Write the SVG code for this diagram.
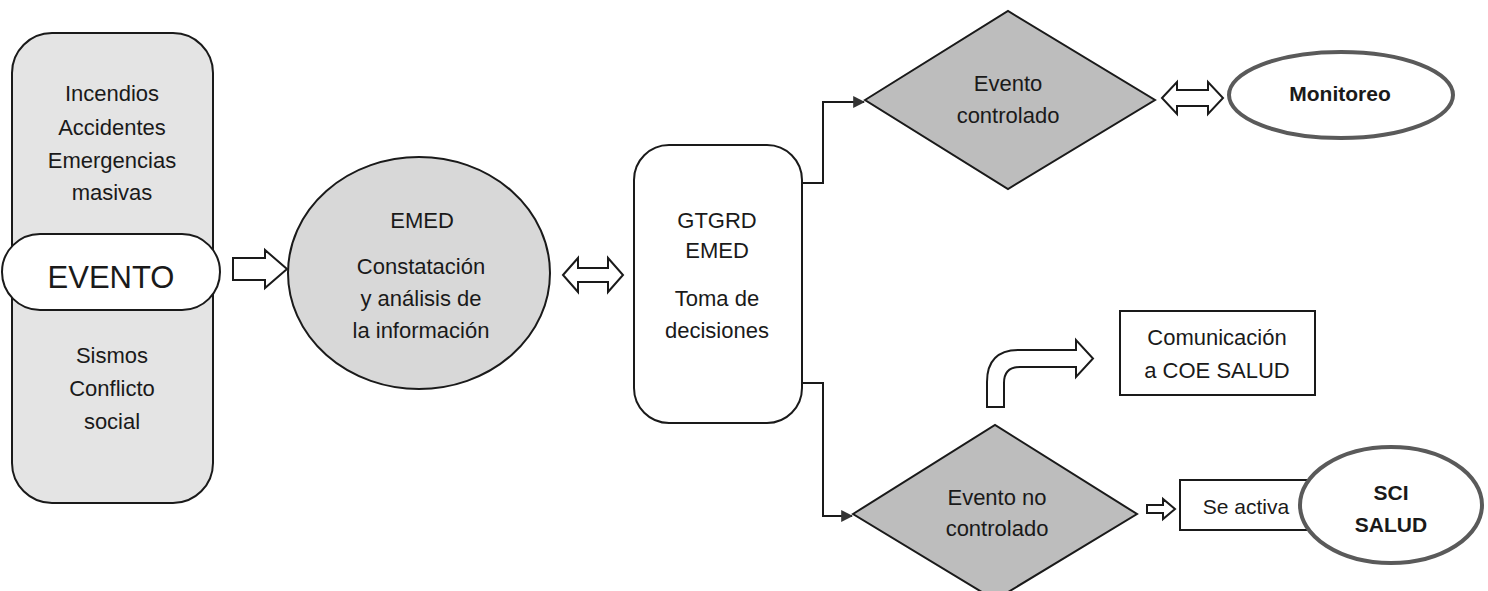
<svg xmlns="http://www.w3.org/2000/svg" width="1488" height="591" viewBox="0 0 1488 591">
<style>
.t{font-family:"Liberation Sans",Arial,sans-serif;font-size:22px;fill:#1a1a1a;text-anchor:middle}
.b{font-weight:bold;font-size:21px}
.ln{fill:none;stroke:#1a1a1a;stroke-width:2}
.hol{fill:#fff;stroke:#1a1a1a;stroke-width:2;stroke-linejoin:miter}
.dia{fill:#bdbdbd;stroke:#1a1a1a;stroke-width:2}
.ell{fill:#fff;stroke:#5a5a5a;stroke-width:4}
.box{fill:#fff;stroke:#1a1a1a;stroke-width:2}
</style>
<defs>
<marker id="ah" viewBox="0 0 10 10" refX="9" refY="5" markerWidth="6" markerHeight="6" orient="auto" markerUnits="strokeWidth">
<path d="M0,0 L10,5 L0,10 Z" fill="#333"/>
</marker>
</defs>
<rect width="1488" height="591" fill="#fff"/>

<g id="tipos">
<rect x="12" y="33" width="201" height="470" rx="40" fill="#e4e4e4" stroke="#1a1a1a" stroke-width="2"/>
<text class="t" x="112" y="101">Incendios</text>
<text class="t" x="112" y="135">Accidentes</text>
<text class="t" x="112" y="168">Emergencias</text>
<text class="t" x="112" y="200">masivas</text>
<text class="t" x="112" y="363">Sismos</text>
<text class="t" x="112" y="396">Conflicto</text>
<text class="t" x="112" y="429">social</text>
</g>

<g id="evento">
<rect x="2" y="234" width="218" height="76" rx="38" fill="#fff" stroke="#1a1a1a" stroke-width="2"/>
<text class="t" x="111" y="288" style="font-size:31px">EVENTO</text>
</g>

<g id="emed">
<ellipse cx="419" cy="273" rx="131" ry="116" fill="#d8d8d8" stroke="#1a1a1a" stroke-width="2"/>
<text class="t" x="422" y="228">EMED</text>
<text class="t" x="421" y="274">Constatación</text>
<text class="t" x="421" y="306">y análisis de</text>
<text class="t" x="421" y="338">la información</text>
</g>

<g id="gtgrd">
<rect x="634" y="145" width="168" height="278" rx="35" fill="#fff" stroke="#1a1a1a" stroke-width="2"/>
<text class="t" x="717" y="228">GTGRD</text>
<text class="t" x="717" y="258">EMED</text>
<text class="t" x="717" y="306">Toma de</text>
<text class="t" x="717" y="338">decisiones</text>
</g>

<g id="controlado">
<polygon class="dia" points="865,100 1008,11 1155,100 1008,189"/>
<text class="t" x="1008" y="91">Evento</text>
<text class="t" x="1008" y="123">controlado</text>
</g>

<g id="monitoreo">
<ellipse class="ell" cx="1341" cy="95" rx="112" ry="43"/>
<text class="t b" x="1340" y="101">Monitoreo</text>
</g>

<g id="comunicacion">
<rect class="box" x="1120" y="311" width="195" height="84"/>
<text class="t" x="1217" y="345">Comunicación</text>
<text class="t" x="1217" y="378">a COE SALUD</text>
</g>

<g id="nocontrolado">
<polygon class="dia" points="853,514 995,425 1137,514 995,600"/>
<text class="t" x="997" y="505">Evento no</text>
<text class="t" x="997" y="536">controlado</text>
</g>

<g id="seactiva">
<rect class="box" x="1180" y="480" width="140" height="50"/>
<text class="t" x="1246" y="514" style="font-size:21px">Se activa</text>
</g>

<g id="sci">
<ellipse class="ell" cx="1391" cy="505" rx="91" ry="58"/>
<text class="t b" x="1391" y="500">SCI</text>
<text class="t b" x="1391" y="532">SALUD</text>
</g>

<g id="connectors">
<path class="hol" d="M233,258 H265 V250 L287,269 L265,288 V280 H233 Z"/>
<path class="hol" d="M563,275 L578,258 V268 H608 V258 L623,275 L608,292 V282 H578 V292 Z"/>
<path class="ln" d="M802,183 H823 V102 H864" marker-end="url(#ah)"/>
<path class="ln" d="M802,383 H823 V516 H852" marker-end="url(#ah)"/>
<path class="hol" d="M1162,98 L1177,82 V90 H1208 V82 L1223,98 L1208,114 V106 H1177 V114 Z"/>
<path class="hol" d="M987,407 V382 Q987,350 1019,350 H1076 V340 L1093,358.5 L1076,377 V367 H1020 Q1004,367 1004,383 V407 Z"/>
<path class="hol" d="M1147,505 H1163 V499 L1175,509 L1163,519 V513 H1147 Z"/>
</g>
</svg>
